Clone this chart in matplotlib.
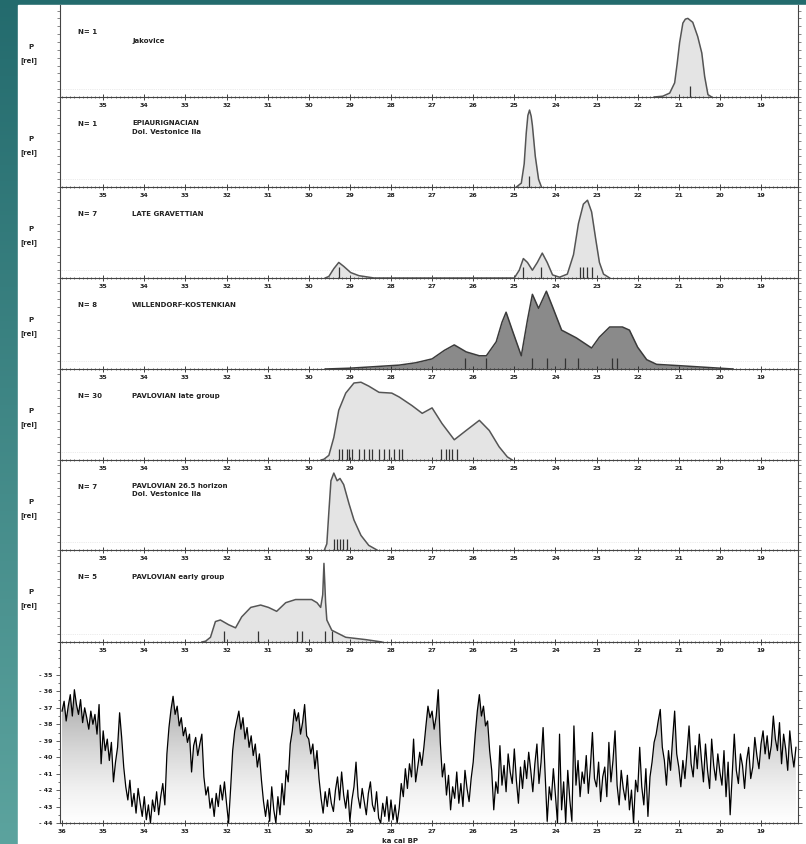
import numpy as np
import matplotlib.pyplot as plt
from matplotlib.patches import Polygon, Rectangle
from matplotlib.ticker import MultipleLocator

W, H = 806, 844

# summed probability curves (age in ka cal BP, relative probability)
jak_age = [21.60, 21.39, 21.22, 21.10, 21.04, 20.98, 20.90, 20.84, 20.78, 20.66, 20.54, 20.44, 20.37, 20.29, 20.20]
jak_p = [0.0, 0.01, 0.05, 0.18, 0.42, 0.69, 0.94, 0.99, 1.0, 0.95, 0.77, 0.56, 0.26, 0.03, 0.0]
jak_dates = [20.73]

epi_age = [24.95, 24.83, 24.76, 24.71, 24.67, 24.63, 24.59, 24.56, 24.49, 24.41, 24.34]
epi_p = [0.0, 0.05, 0.3, 0.7, 0.93, 1.0, 0.92, 0.8, 0.4, 0.1, 0.0]
epi_dates = [24.64]

lg_age = [29.60, 29.51, 29.39, 29.27, 29.15, 28.98, 28.78, 28.41, 25.00, 24.88, 24.78, 24.68, 24.56,
          24.44, 24.32, 24.20, 24.07, 23.90, 23.71, 23.56, 23.44, 23.32, 23.22, 23.12, 23.02, 22.93,
          22.83, 22.68]
lg_p = [0.0, 0.02, 0.12, 0.2, 0.15, 0.07, 0.03, 0.0, 0.0, 0.1, 0.25, 0.2, 0.1, 0.2, 0.32, 0.2, 0.04,
        0.01, 0.05, 0.3, 0.7, 0.95, 1.0, 0.85, 0.5, 0.2, 0.05, 0.0]
lg_dates = [29.27, 24.78, 24.34, 23.41, 23.32, 23.22, 23.10]

wk_age = [29.60, 29.02, 28.40, 27.80, 27.40, 27.00, 26.70, 26.46, 26.17, 25.85, 25.68, 25.44, 25.30,
          25.20, 25.05, 24.83, 24.68, 24.56, 24.41, 24.22, 24.07, 23.85, 23.49, 23.12, 22.93, 22.68,
          22.37, 22.20, 22.00, 21.78, 21.54, 20.90, 19.68]
wk_p = [0.0, 0.01, 0.03, 0.05, 0.08, 0.13, 0.24, 0.31, 0.22, 0.17, 0.17, 0.35, 0.6, 0.73, 0.5, 0.17,
        0.63, 0.96, 0.78, 1.0, 0.8, 0.5, 0.4, 0.27, 0.41, 0.54, 0.54, 0.5, 0.28, 0.12, 0.06, 0.04, 0.0]
wk_dates = [26.20, 25.70, 24.56, 24.20, 23.76, 23.44, 22.63, 22.50]

pl_age = [29.70, 29.63, 29.51, 29.39, 29.27, 29.10, 28.90, 28.73, 28.54, 28.29, 27.98, 27.80, 27.49,
          27.24, 27.00, 26.76, 26.46, 26.17, 25.85, 25.61, 25.37, 25.17, 25.05]
pl_p = [0.0, 0.01, 0.06, 0.29, 0.64, 0.86, 0.99, 1.0, 0.95, 0.87, 0.86, 0.81, 0.7, 0.6, 0.67, 0.47,
        0.26, 0.38, 0.51, 0.38, 0.17, 0.04, 0.0]
pl_dates = [29.27, 29.20, 29.07, 29.02, 28.95, 28.78, 28.66, 28.54, 28.46, 28.29, 28.17, 28.05,
            27.93, 27.80, 27.73, 26.78, 26.66, 26.59, 26.51, 26.39]

dv_age = [29.62, 29.56, 29.51, 29.46, 29.39, 29.31, 29.24, 29.15, 29.02, 28.90, 28.73, 28.54, 28.34]
dv_p = [0.0, 0.08, 0.5, 0.9, 1.0, 0.9, 0.93, 0.85, 0.6, 0.39, 0.19, 0.06, 0.0]
dv_dates = [29.39, 29.32, 29.24, 29.17, 29.07]

pe_age = [32.60, 32.51, 32.39, 32.27, 32.15, 31.95, 31.78, 31.63, 31.41, 31.17, 30.98, 30.78, 30.56,
          30.32, 29.93, 29.80, 29.71, 29.66, 29.63, 29.59, 29.56, 29.44, 29.10, 28.61, 28.22]
pe_p = [0.0, 0.01, 0.06, 0.26, 0.28, 0.22, 0.18, 0.32, 0.44, 0.47, 0.44, 0.39, 0.5, 0.54, 0.54, 0.5,
        0.44, 0.6, 1.0, 0.5, 0.28, 0.15, 0.06, 0.03, 0.0]
pe_dates = [32.07, 31.24, 30.29, 30.17, 29.61, 29.44]

panel_n = ["N= 1", "N= 1", "N= 7", "N= 8", "N= 30", "N= 7", "N= 5"]
panel_names = ["Jakovice", "EPIAURIGNACIAN\nDol. Vestonice IIa", "LATE GRAVETTIAN",
               "WILLENDORF-KOSTENKIAN", "PAVLOVIAN late group",
               "PAVLOVIAN 26.5 horizon\nDol. Vestonice IIa", "PAVLOVIAN early group"]

# GISP2 d18O record, 0.05 ka steps from 36.0 to 18.15 ka
d18o = [
    -37.2, -36.6, -37.8, -36.9, -36.2, -37.5, -35.9, -36.8, -37.4, -36.5, -37.9, -37.0, -37.6, -38.3, -37.2, -38.0, -37.4, -38.6, -36.8, -40.4,
    -38.4, -39.6, -38.9, -40.2, -39.1, -41.5, -40.3, -39.4, -37.3, -38.8, -40.6, -41.8, -42.6, -41.4, -43.0, -42.2, -43.4, -41.9, -42.8, -43.6,
    -42.4, -43.8, -42.9, -44.0, -42.6, -43.3, -42.1, -43.5, -42.4, -41.6, -42.9, -39.8, -38.2, -37.1, -36.3, -37.4, -36.9, -38.1, -37.6, -38.7,
    -38.2, -39.1, -38.6, -40.9, -39.3, -38.8, -39.9, -39.2, -38.6, -41.2, -42.3, -41.8, -43.1, -42.5, -43.6, -42.2, -43.0, -41.7, -42.6, -41.5,
    -42.8, -44.0, -41.9, -39.6, -38.4, -37.8, -37.2, -38.3, -37.6, -38.9, -38.2, -39.4, -38.7, -39.9, -39.2, -40.6, -39.8, -41.4, -42.7, -43.6,
    -42.6, -43.9, -41.8, -43.2, -44.0, -42.4, -43.5, -41.6, -42.9, -40.8, -41.5, -39.2, -38.4, -37.1, -37.8, -37.3, -38.6, -37.9, -36.8, -38.7,
    -38.9, -39.8, -39.2, -40.7, -39.6, -41.3, -42.5, -43.4, -42.1, -43.0, -41.9, -42.8, -43.3, -42.0, -41.2, -42.6, -40.9, -42.3, -43.1, -42.0,
    -43.9, -42.6, -41.8, -40.3, -42.4, -43.1, -41.9, -42.7, -43.5, -42.2, -41.5, -42.9, -43.3, -42.1, -43.7, -44.0, -42.8, -43.6, -42.4, -43.9,
    -42.6, -43.8, -42.9, -44.0, -43.1, -41.6, -42.4, -40.7, -41.9, -40.4, -41.2, -38.9, -41.5, -40.6, -39.7, -40.5, -39.4, -38.1, -36.9, -37.6,
    -37.2, -38.3, -37.5, -35.9, -39.1, -41.2, -40.4, -42.3, -41.1, -43.2, -41.8, -42.5, -40.9, -42.8, -41.6, -43.0, -40.8, -41.9, -42.7, -41.3,
    -40.3, -38.6, -37.2, -36.2, -37.5, -36.9, -38.1, -37.8, -39.6, -40.8, -43.2, -41.5, -42.2, -39.3, -41.7, -40.5, -42.1, -39.8, -40.9, -41.6,
    -39.5, -41.4, -42.8, -40.6, -41.9, -40.2, -41.3, -39.7, -40.8, -42.1, -40.4, -39.2, -41.6, -40.3, -38.2, -41.1, -43.9, -41.8, -42.6, -40.7,
    -42.3, -44.0, -38.6, -43.2, -41.5, -44.0, -40.8, -42.6, -43.9, -38.1, -41.7, -40.2, -42.4, -40.9, -41.6, -39.9, -42.2, -40.6, -38.5, -41.3,
    -41.8, -40.3, -42.7, -41.2, -40.6, -42.4, -39.1, -41.5, -40.2, -38.4, -41.7, -42.9, -40.8, -41.9, -42.6, -41.1, -43.2, -42.0, -44.0, -41.4,
    -42.1, -39.4, -41.8, -42.9, -40.7, -43.6, -41.2, -40.3, -39.1, -38.6, -37.8, -37.1, -39.4, -40.2, -41.7, -39.6, -40.8, -38.9, -37.2, -39.8,
    -40.6, -41.8, -40.2, -41.3, -39.7, -38.1, -40.4, -41.2, -39.3, -40.7, -38.6, -40.1, -41.5, -39.2, -40.8, -41.9, -38.9, -40.5, -41.4, -39.8,
    -40.9, -41.7, -39.6, -42.4, -40.3, -43.5, -41.1, -38.6, -40.8, -41.6, -39.8, -40.5, -41.9, -40.2, -39.4, -41.3, -40.6, -38.8, -39.9, -40.7,
    -39.2, -38.4, -39.8, -38.7, -40.1, -39.3, -37.5, -38.9, -39.6, -37.9, -40.4, -38.6, -39.5, -40.8, -38.4, -39.7, -40.6, -39.4,
]
d18o_age = np.round(36.0 - 0.05 * np.arange(len(d18o)), 2)

curves = [(jak_age, jak_p, jak_dates), (epi_age, epi_p, epi_dates), (lg_age, lg_p, lg_dates),
          (wk_age, wk_p, wk_dates), (pl_age, pl_p, pl_dates), (dv_age, dv_p, dv_dates),
          (pe_age, pe_p, pe_dates)]

# panel edges in pixels (top, bottom)
edges = [(5, 97), (97, 187), (187, 278), (278, 369), (369, 460), (460, 550), (550, 642), (642, 823)]
XL, XR = 60, 798
XLIM = (36.05, 18.1)

fig = plt.figure(figsize=(W / 100, H / 100), dpi=100)

# teal slide background on the left and top edge
bg = fig.add_axes([0, 0, 1, 1], zorder=-10)
grad = np.linspace(0, 1, 200)[:, None]
c0 = np.array([0.14, 0.42, 0.43])
c1 = np.array([0.36, 0.64, 0.62])
img = c0[None, None, :] * (1 - grad[:, :, None]) + c1[None, None, :] * grad[:, :, None]
bg.imshow(img, extent=(0, 1, 0, 1), aspect='auto', origin='upper')
bg.add_patch(Rectangle((18 / W, 0), 1 - 18 / W, 1 - 5 / H, color='white', transform=bg.transAxes))
bg.set_xlim(0, 1)
bg.set_ylim(0, 1)
bg.axis('off')


def make_ax(top, bot):
    return fig.add_axes([XL / W, 1 - bot / H, (XR - XL) / W, (bot - top) / H])


tick_kw = dict(labelsize=4.5, pad=2.5, colors='#222222')

for i, (age, p, dates) in enumerate(curves):
    top, bot = edges[i]
    ax = make_ax(top, bot)
    dark = (i == 3)
    ax.fill_between(age, p, 0, color='#8a8a8a' if dark else '#e4e4e4', lw=0)
    ax.plot(age, p, color='#3a3a3a' if dark else '#555555', lw=1.1)
    ax.vlines(dates, 0, 0.14, color='#333333', lw=0.9)
    ax.axhline(0.1, color='#d8d8d8', lw=0.5, ls=':', zorder=0)
    ax.set_xlim(*XLIM)
    ax.set_ylim(0, 1.17)
    ax.set_xticks(range(19, 36))
    ax.set_xticklabels([str(v) for v in range(19, 36)], fontweight='bold')
    ax.xaxis.set_minor_locator(MultipleLocator(0.1))
    ax.set_yticks(np.arange(0, 1.15, 0.1))
    ax.set_yticklabels([])
    ax.tick_params(axis='x', which='major', direction='inout', length=4, width=0.6, **tick_kw)
    ax.tick_params(axis='x', which='minor', direction='inout', length=2, width=0.4)
    ax.tick_params(axis='y', direction='out', length=2, width=0.5, right=True, color='#555555')
    for s in ['left', 'right', 'bottom']:
        ax.spines[s].set_linewidth(0.8)
        ax.spines[s].set_color('#444444')
    ax.spines['top'].set_visible(False)
    ax.patch.set_alpha(0)

    # text in pixel positions
    fig.text(78 / W, 1 - (top + 27) / H, panel_n[i], fontsize=5, fontweight='bold',
             va='center', color='#222222')
    ny = 23 if '\n' in panel_names[i] else 27
    if i == 0:
        ny = 36
    fig.text(132 / W, 1 - (top + ny) / H, panel_names[i], fontsize=5, fontweight='bold',
             va='top' if '\n' in panel_names[i] else 'center', linespacing=1.5, color='#222222')
    fig.text(31 / W, 1 - (top + 42) / H, "P", fontsize=5, fontweight='bold', ha='center',
             va='center', color='#222222')
    fig.text(29 / W, 1 - (top + 56) / H, "[rel]", fontsize=5, fontweight='bold', ha='center',
             va='center', color='#222222')

# bottom panel: d18O record
top, bot = edges[7]
ax = make_ax(top, bot)
ax.set_xlim(*XLIM)
ax.set_ylim(-44, -33)
verts = list(zip(d18o_age, d18o)) + [(d18o_age[-1], -44), (d18o_age[0], -44)]
poly = Polygon(verts, closed=True, facecolor='none', edgecolor='none')
ax.add_patch(poly)
shade = np.linspace(0.45, 0.0, 256)[:, None]
im = ax.imshow(shade, cmap='Greys', vmin=0, vmax=1, extent=(XLIM[0], XLIM[1], -44, -36.3),
               aspect='auto', origin='upper', zorder=1)
im.set_clip_path(poly)
ax.plot(d18o_age, d18o, color='black', lw=0.9, zorder=2)
ax.set_xlim(*XLIM)
ax.set_ylim(-44, -33)
ax.set_xticks(range(19, 37))
ax.set_xticklabels([str(v) for v in range(19, 37)], fontweight='bold')
ax.xaxis.set_minor_locator(MultipleLocator(0.1))
ax.set_yticks(range(-44, -34))
ax.set_yticklabels(["- %d" % abs(v) for v in range(-44, -34)], fontweight='bold')
ax.yaxis.set_minor_locator(MultipleLocator(0.5))
ax.tick_params(axis='x', which='major', direction='inout', length=4, width=0.6, **tick_kw)
ax.tick_params(axis='x', which='minor', direction='inout', length=2, width=0.4)
ax.tick_params(axis='y', which='major', direction='out', length=3, width=0.5, right=True, **tick_kw)
ax.tick_params(axis='y', which='minor', direction='out', length=1.5, width=0.4, right=True)
for s in ['left', 'right', 'bottom']:
    ax.spines[s].set_linewidth(0.8)
    ax.spines[s].set_color('#444444')
ax.spines['top'].set_visible(False)
ax.patch.set_alpha(0)

fig.text(400 / W, 1 - 841 / H, "ka cal BP", fontsize=5, fontweight='bold', ha='center',
         va='center', color='#222222')

fig.savefig("out.png", dpi=100)
